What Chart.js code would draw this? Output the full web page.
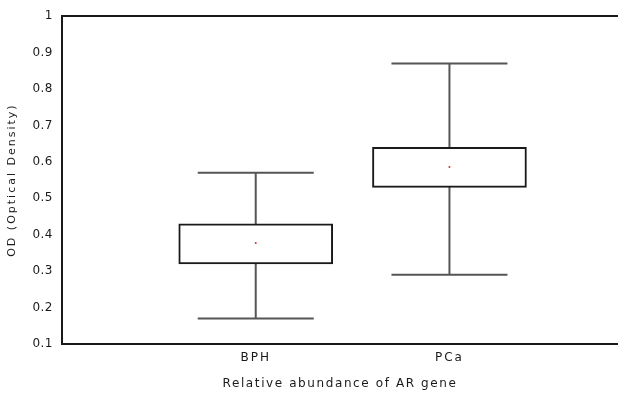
<!DOCTYPE html>
<html>
<head>
<meta charset="utf-8">
<script src="https://cdn.jsdelivr.net/npm/chart.js@4/dist/chart.umd.min.js"></script>
<style>
html,body{margin:0;padding:0;background:#fff;overflow:hidden;}
#wrap{width:618px;height:396px;}
</style>
</head>
<body>
<div id="wrap"><canvas id="c" width="618" height="396"></canvas></div>
<script>
const categories = ["BPH", "PCa"];
const categoryPos = [1, 2];
const whiskerLow = [0.17, 0.29];
const boxLow = [0.32, 0.53];
const boxHigh = [0.43, 0.64];
const whiskerHigh = [0.57, 0.87];
const means = [0.377, 0.586];
const yTicks = [0.1, 0.2, 0.3, 0.4, 0.5, 0.6, 0.7, 0.8, 0.9, 1];

const FONT = "'DejaVu Sans', Verdana, sans-serif";

const whiskerLine = [];
categoryPos.forEach((p, i) => {
  whiskerLine.push({x: p, y: whiskerLow[i]});
  whiskerLine.push({x: p, y: whiskerHigh[i]});
  whiskerLine.push({x: p + 0.5, y: null});
});
const caps = [];
categoryPos.forEach((p, i) => {
  caps.push({x: p, y: whiskerLow[i]});
  caps.push({x: p, y: whiskerHigh[i]});
});
const boxes = categoryPos.map((p, i) => ({x: p, y: [boxLow[i], boxHigh[i]]}));
const meanPts = categoryPos.map((p, i) => ({x: p, y: means[i]}));

// letter-spacing for axis texts (the source uses a wide, spaced font)
function spaced(scale, method, spacing) {
  if (scale['_sp_' + method]) return;
  const orig = Object.getPrototypeOf(scale)[method];
  scale[method] = function (...args) {
    const ctx = this.ctx;
    ctx.save();
    ctx.letterSpacing = spacing;
    orig.apply(this, args);
    ctx.restore();
  };
  scale['_sp_' + method] = true;
}
const spacingPlugin = {
  id: 'spacing',
  beforeDraw(chart) {
    spaced(chart.scales.x, 'drawLabels', '2px');
    spaced(chart.scales.x, 'drawTitle', '1.6px');
    spaced(chart.scales.y, 'drawTitle', '2px');
    spaced(chart.scales.y, 'drawLabels', '0.5px');
  }
};

new Chart(document.getElementById('c'), {
  data: {
    datasets: [
      {type: 'scatter', data: whiskerLine, showLine: true, spanGaps: false,
       borderColor: '#555', borderWidth: 2, pointRadius: 0, order: 3},
      {type: 'scatter', data: caps, pointStyle: 'line', pointRadius: 58,
       pointBorderColor: '#555', pointBorderWidth: 2, order: 2},
      {type: 'bar', data: boxes, backgroundColor: '#fff', borderColor: '#1a1a1a',
       borderWidth: 2, borderSkipped: false, barThickness: 154, order: 1},
      {type: 'scatter', data: meanPts, pointRadius: 1, pointBorderWidth: 0,
       backgroundColor: '#d03030', order: 0}
    ]
  },
  plugins: [spacingPlugin],
  options: {
    responsive: false,
    animation: false,
    events: [],
    layout: {autoPadding: false, padding: {top: 10, right: 0, left: 0, bottom: 0}},
    plugins: {legend: {display: false}, tooltip: {enabled: false}},
    scales: {
      x: {
        type: 'linear', min: 0, max: 2.87, offset: false,
        afterBuildTicks: s => { s.ticks = categoryPos.map(v => ({value: v})); },
        afterFit: s => { s.height = 52; },
        grid: {display: false, drawTicks: false, offset: false},
        border: {display: true, color: '#1a1a1a', width: 2},
        ticks: {
          padding: 7, color: '#1a1a1a', font: {family: FONT, size: 12},
          callback: (v) => { const i = categoryPos.indexOf(v); return i >= 0 ? categories[i] : ''; }
        },
        title: {display: true, text: 'Relative abundance of AR gene', color: '#1a1a1a',
               font: {family: FONT, size: 12}, padding: {top: 6, bottom: 5}}
      },
      x2: {
        type: 'linear', position: 'top', min: 0, max: 2.87, offset: false,
        afterFit: s => { s.height = 0; },
        grid: {display: false, drawTicks: false},
        border: {display: true, color: '#1a1a1a', width: 2},
        ticks: {display: false}
      },
      y: {
        min: 0.1, max: 1,
        afterBuildTicks: s => { s.ticks = yTicks.map(v => ({value: v})); },
        afterFit: s => { s.width = 62; },
        grid: {display: false, drawTicks: false},
        border: {display: true, color: '#1a1a1a', width: 2},
        ticks: {padding: 9, color: '#1a1a1a', font: {family: FONT, size: 12},
                callback: v => String(Math.round(v * 10) / 10)},
        title: {display: true, text: 'OD (Optical Density)', color: '#1a1a1a',
                font: {family: FONT, size: 11}, padding: {top: 6, bottom: 0}}
      }
    }
  }
});
</script>
</body>
</html>
